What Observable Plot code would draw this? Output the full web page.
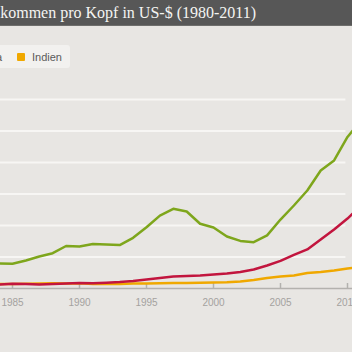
<!DOCTYPE html>
<html>
<head>
<meta charset="utf-8">
<script src="https://cdn.jsdelivr.net/npm/d3@7"></script>
<script src="https://cdn.jsdelivr.net/npm/@observablehq/plot@0.6"></script>
<style>
  html, body { margin: 0; padding: 0; width: 352px; height: 352px; overflow: hidden; background: #e8e6e3; }
  body { position: relative; }
  #titlebar { position: absolute; left: 0; top: 0; width: 352px; height: 25px; background: #575757; border-bottom: 1px solid #6e6e6c; overflow: hidden; }
  #titlebar span { position: absolute; left: -22px; top: 0; line-height: 25px; white-space: nowrap; font-family: "Liberation Serif", "DejaVu Serif", serif; font-size: 16px; color: #f4f4f2; }
  #legend { position: absolute; top: 45px; right: 282px; height: 23px; background: #f2f1ef; border-radius: 3px; display: flex; align-items: center; padding: 0 8px 0 10px; font-family: "Liberation Sans", Arial, sans-serif; font-size: 11px; color: #5a5a5a; white-space: nowrap; }
  #legend .item { display: flex; align-items: center; margin-left: 15px; }
  #legend .item:first-child { margin-left: 0; }
  #legend .sw { width: 8px; height: 8px; border-radius: 1px; margin-right: 7px; }
  #chart { position: absolute; left: -100px; top: 30px; width: 500px; }
  #chart svg { max-width: none !important; }
</style>
</head>
<body>
<div id="titlebar"><span id="title"></span></div>
<div id="legend"></div>
<div id="chart"></div>
<script>
const titel = "Einkommen pro Kopf in US-$ (1980-2011)";
const laender = ["Brasilien", "China", "Indien"];
const farben = ["#7ea61c", "#c2153e", "#f0a800"];
const jahre = [1980,1981,1982,1983,1984,1985,1986,1987,1988,1989,1990,1991,1992,1993,1994,1995,1996,1997,1998,1999,2000,2001,2002,2003,2004,2005,2006,2007,2008,2009,2010,2011];
const brasilien = [1900,2050,2150,1550,1590,1570,1780,2030,2240,2700,2670,2830,2790,2760,3220,3890,4630,5060,4890,4110,3870,3300,3020,2940,3370,4380,5270,6220,7490,8130,9620,10670];
const china = [195,197,203,225,250,300,280,250,285,310,350,330,370,410,470,570,670,760,790,830,890,950,1050,1210,1460,1750,2130,2480,3110,3750,4440,5270];
const indien = [270,275,280,290,280,290,300,320,330,320,330,290,300,290,310,320,335,345,345,365,375,390,445,540,670,760,830,980,1050,1140,1270,1370];
const achsenJahre = [1980,1985,1990,1995,2000,2005,2010];
const gitter = [2000,4000,6000,8000,10000,12000];

document.getElementById("title").textContent = titel;

const legend = document.getElementById("legend");
laender.forEach((l, i) => {
  const it = document.createElement("div");
  it.className = "item";
  const sw = document.createElement("div");
  sw.className = "sw";
  sw.style.background = farben[i];
  const tx = document.createElement("span");
  tx.textContent = l;
  it.appendChild(sw); it.appendChild(tx);
  legend.appendChild(it);
});

const serien = {Brasilien: brasilien, China: china, Indien: indien};
const reihenfolge = ["Indien", "China", "Brasilien"];
const rows = reihenfolge.flatMap(l => jahre.map((j, i) => ({jahr: j, land: l, wert: serien[l][i]})));

const chart = Plot.plot({
  width: 500,
  height: 288,
  marginLeft: 45,
  marginRight: 39.6,
  marginTop: 69,
  marginBottom: 30,
  style: {background: "transparent", maxWidth: "none", fontFamily: "'Liberation Sans', Arial, sans-serif", fontSize: "10px", color: "#a4a29f"},
  x: {domain: [1980, 2011], ticks: achsenJahre, tickSize: 0, tickPadding: 10, tickFormat: "d", label: null},
  y: {domain: [0, 12000], axis: null},
  color: {domain: laender, range: farben},
  marks: [
    Plot.ruleY(gitter, {stroke: "#f7f6f4", strokeWidth: 2, insetRight: 15}),
    Plot.ruleY([0], {stroke: "#b3b1ae", strokeWidth: 1.5}),
    Plot.ruleX(achsenJahre, {x: d => d, stroke: "#b3b1ae", strokeWidth: 1.5, insetTop: 184}),
    Plot.line(rows, {x: "jahr", y: "wert", z: "land", stroke: "land", strokeWidth: 2.5})
  ]
});
document.getElementById("chart").appendChild(chart);
</script>
</body>
</html>
